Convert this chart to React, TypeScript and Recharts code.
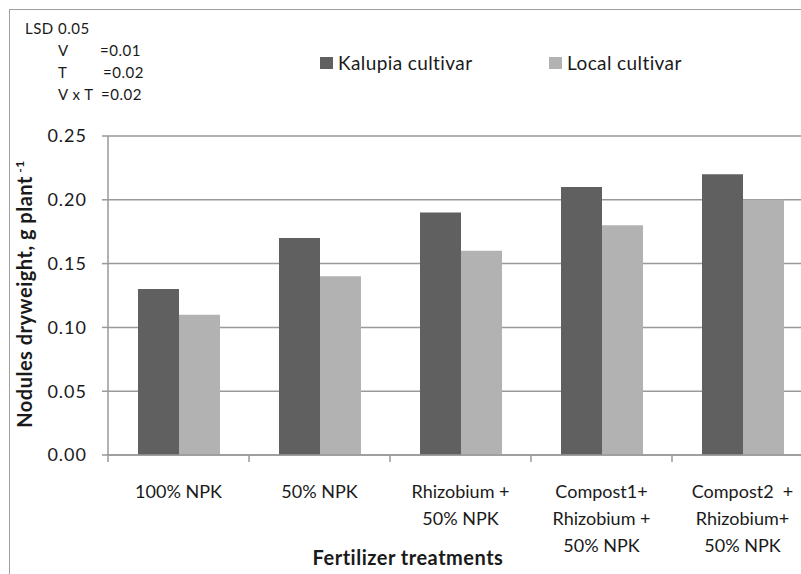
import React from 'react';
import { BarChart, Bar, XAxis, YAxis, CartesianGrid, Legend } from 'recharts';

const categories = [
  ['100% NPK'],
  ['50% NPK'],
  ['Rhizobium +', '50% NPK'],
  ['Compost1+', 'Rhizobium +', '50% NPK'],
  ['Compost2  +', 'Rhizobium+', '50% NPK'],
];
const kalupia = [0.13, 0.17, 0.19, 0.21, 0.22];
const local = [0.11, 0.14, 0.16, 0.18, 0.2];
const yTicks = [0, 0.05, 0.1, 0.15, 0.2, 0.25];
const lsdLines = [
  ['V', '=0.01'],
  ['T', '=0.02'],
  ['V x T', '=0.02'],
];

const data = categories.map((lines, i) => ({
  name: lines.join(' '),
  lines,
  kalupia: kalupia[i],
  local: local[i],
}));

const FONT = 'Lato, "Open Sans", sans-serif';
const TEXT = '#1a1a1a';
const AXIS = '#999999';
const CHART_W = 830;
const CHART_H = 574;
const PLOT_LEFT = 108;
const PLOT_RIGHT = 17;
const LEGEND_H = 100;
const PLOT_W = CHART_W - PLOT_LEFT - PLOT_RIGHT;
const HALF_BAND = PLOT_W / categories.length / 2;

const XTick = ({ x, y, payload, index }: any) => {
  const lines = data[index]?.lines ?? [String(payload.value)];
  return (
    <g>
      <line x1={x - HALF_BAND} x2={x - HALF_BAND} y1={y} y2={y + 7} stroke={AXIS} strokeWidth={1.5} />
      {index === categories.length - 1 && (
        <line x1={x + HALF_BAND} x2={x + HALF_BAND} y1={y} y2={y + 7} stroke={AXIS} strokeWidth={1.5} />
      )}
      <text x={x} y={y} textAnchor="middle" fill={TEXT} fontSize={18} fontFamily={FONT}>
        {lines.map((l: string, i: number) => (
          <tspan key={i} x={x} y={y + 43 + i * 27} style={{ whiteSpace: 'pre' }}>
            {l}
          </tspan>
        ))}
      </text>
    </g>
  );
};

const LegendContent = ({ payload }: any) => (
  <div style={{ position: 'relative', width: 801, height: LEGEND_H }}>
    {(payload || []).map((p: any, i: number) => (
      <div
        key={p.value}
        style={{
          position: 'absolute',
          left: i === 0 ? 320 : 549,
          top: 51,
          display: 'flex',
          alignItems: 'center',
          fontFamily: FONT,
          fontSize: 19,
          letterSpacing: 0.4,
          color: TEXT,
          whiteSpace: 'nowrap',
        }}
      >
        <span style={{ display: 'inline-block', width: 13, height: 12, background: p.color, marginRight: 5 }} />
        {p.value}
      </div>
    ))}
  </div>
);

export default function App() {
  return (
    <div style={{ position: 'absolute', left: 0, top: 0, width: 801, height: 574, overflow: 'hidden', background: '#fff' }}>
      <div
        style={{
          position: 'absolute',
          left: 9,
          top: 9,
          width: 900,
          height: 700,
          border: '1.5px solid #a0a0a0',
        }}
      />
      <div
        style={{
          position: 'absolute',
          left: 25,
          top: 17,
          fontFamily: FONT,
          fontSize: 15,
          letterSpacing: 0.5,
          color: TEXT,
          lineHeight: '22px',
          whiteSpace: 'nowrap',
        }}
      >
        <div>LSD 0.05</div>
        {lsdLines.map(([k, v]) => (
          <div key={k} style={{ position: 'relative', height: 22 }}>
            <span style={{ position: 'absolute', left: 33 }}>{k}</span>
            <span style={{ position: 'absolute', left: k === 'V x T' ? 76 : k === 'T' ? 78 : 75 }}>{v}</span>
          </div>
        ))}
      </div>
      <div style={{ position: 'absolute', left: 0, top: 0 }}>
        <BarChart
          width={CHART_W}
          height={CHART_H}
          data={data}
          margin={{ top: 136 - LEGEND_H, right: PLOT_RIGHT, bottom: 0, left: PLOT_LEFT - 60 }}
          barGap={0}
          barCategoryGap={30}
        >
          <CartesianGrid vertical={false} stroke={AXIS} strokeWidth={1.5} />
          <XAxis
            dataKey="name"
            height={119}
            axisLine={{ stroke: AXIS, strokeWidth: 1.5 }}
            tickLine={false}
            tickSize={0}
            tickMargin={0}
            interval={0}
            tick={<XTick />}
            label={{
              content: () => (
                <text
                  x={408}
                  y={565}
                  textAnchor="middle"
                  fontFamily={FONT}
                  fontSize={20}
                  letterSpacing={0.5}
                  fontWeight="bold"
                  fill={TEXT}
                >
                  Fertilizer treatments
                </text>
              ),
            }}
          />
          <YAxis
            width={60}
            domain={[0, 0.25]}
            ticks={yTicks}
            interval={0}
            tickFormatter={(v: number) => v.toFixed(2)}
            axisLine={{ stroke: AXIS, strokeWidth: 1.5 }}
            tickLine={{ stroke: AXIS, strokeWidth: 1.5 }}
            tickSize={6}
            tickMargin={15}
            tick={{ fill: TEXT, fontSize: 18, fontFamily: FONT, letterSpacing: 1 }}
            label={{
              content: () => (
                <text
                  transform="translate(32,294) rotate(-90)"
                  textAnchor="middle"
                  fontFamily={FONT}
                  fontSize={20}
                  letterSpacing={0.5}
                  fontWeight="bold"
                  fill={TEXT}
                >
                  Nodules dryweight, g plant
                  <tspan fontSize={12} dy={-8}> -1</tspan>
                </text>
              ),
            }}
          />
          <Legend
            verticalAlign="top"
            wrapperStyle={{ position: 'absolute', left: 0, top: 0, width: 801, height: LEGEND_H }}
            content={<LegendContent />}
          />
          <Bar dataKey="kalupia" name="Kalupia cultivar" fill="#606060" isAnimationActive={false} />
          <Bar dataKey="local" name="Local cultivar" fill="#b2b2b2" isAnimationActive={false} />
        </BarChart>
      </div>
    </div>
  );
}
